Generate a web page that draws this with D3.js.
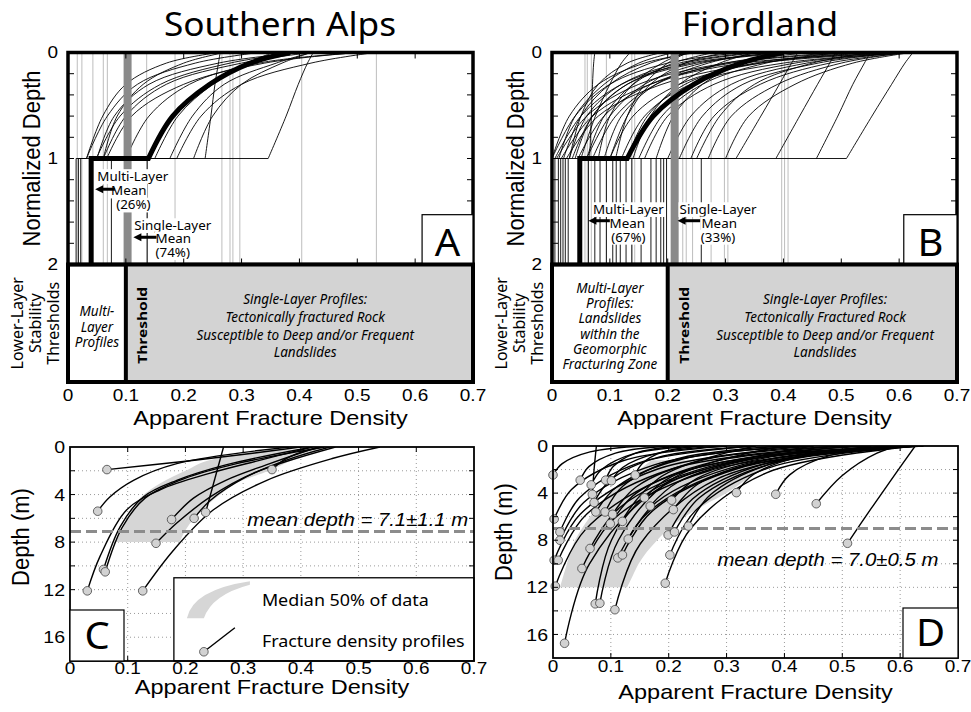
<!DOCTYPE html>
<html>
<head>
<meta charset="utf-8">
<script src="https://cdn.jsdelivr.net/npm/d3@7"></script>
<style>
  body { margin: 0; background: #fff; }
  svg { display: block; }
</style>
</head>
<body>
<svg id="fig" width="971" height="712"></svg>
<script>
// ---------------- data: panels A / B (normalized depth) ----------------
// each profile: x values at the normalized depths below, lo = lower-layer value (multi-layer)
const normDepths = [1, 0.6, 0.3, 0.1, 0];

const alpsProfiles = [
  { x: [0.032, 0.068, 0.12, 0.22, 0.33], lo: 0.018 },
  { x: [0.049, 0.09, 0.16, 0.28, 0.40] },
  { x: [0.061, 0.10, 0.17, 0.30, 0.42] },
  { x: [0.067, 0.11, 0.20, 0.34, 0.50] },
  { x: [0.061, 0.085, 0.13, 0.20, 0.27] },
  { x: [0.15, 0.19, 0.25, 0.31, 0.355] },
  { x: [0.176, 0.215, 0.27, 0.36, 0.42], lo: 0.137 },
  { x: [0.188, 0.23, 0.30, 0.42, 0.53], lo: 0.075 },
  { x: [0.217, 0.25, 0.30, 0.37, 0.42] },
  { x: [0.237, 0.247, 0.254, 0.26, 0.263] },
  { x: [0.346, 0.377, 0.398, 0.414, 0.424], lo: 0.014 },
  { x: [0.05, 0.08, 0.14, 0.26, 0.40] },
  { x: [0.032, 0.06, 0.10, 0.17, 0.26], lo: 0.022 },
  { x: [0.10, 0.14, 0.21, 0.33, 0.505] }
];
const alpsMean = { x: [0.139, 0.181, 0.245, 0.315, 0.384], lo: 0.04 };
const alpsSingle = [0.016, 0.024, 0.043, 0.061, 0.068, 0.136, 0.185, 0.266, 0.28, 0.285, 0.297, 0.404, 0.533];
const alpsSingleMean = 0.103;
const alpsThreshold = 0.1;

const fiordProfiles = [
  { x: [0.0, 0.03, 0.08, 0.16, 0.25], lo: 0.011 },
  { x: [0.0, 0.04, 0.10, 0.20, 0.33], lo: 0.015 },
  { x: [0.005, 0.05, 0.12, 0.24, 0.40], lo: 0.019 },
  { x: [0.008, 0.06, 0.15, 0.30, 0.50], lo: 0.023 },
  { x: [0.012, 0.04, 0.09, 0.15, 0.21], lo: 0.028 },
  { x: [0.016, 0.07, 0.17, 0.33, 0.62] },
  { x: [0.02, 0.05, 0.10, 0.17, 0.24] },
  { x: [0.025, 0.08, 0.19, 0.36, 0.61] },
  { x: [0.03, 0.06, 0.12, 0.22, 0.35] },
  { x: [0.04, 0.07, 0.13, 0.25, 0.42] },
  { x: [0.05, 0.075, 0.10, 0.12, 0.135] },
  { x: [0.06, 0.09, 0.14, 0.21, 0.28], lo: 0.063 },
  { x: [0.065, 0.068, 0.07, 0.072, 0.074] },
  { x: [0.07, 0.11, 0.18, 0.30, 0.45], lo: 0.074 },
  { x: [0.08, 0.10, 0.14, 0.19, 0.23] },
  { x: [0.09, 0.12, 0.18, 0.27, 0.36], lo: 0.083 },
  { x: [0.10, 0.14, 0.22, 0.36, 0.56], lo: 0.094 },
  { x: [0.11, 0.13, 0.16, 0.20, 0.235] },
  { x: [0.12, 0.16, 0.24, 0.40, 0.62], lo: 0.105 },
  { x: [0.06, 0.10, 0.16, 0.26, 0.39], lo: 0.111 },
  { x: [0.14, 0.17, 0.22, 0.29, 0.35], lo: 0.118 },
  { x: [0.16, 0.20, 0.28, 0.42, 0.61], lo: 0.128 },
  { x: [0.18, 0.21, 0.26, 0.33, 0.39] },
  { x: [0.20, 0.24, 0.31, 0.44, 0.62], lo: 0.138 },
  { x: [0.22, 0.26, 0.33, 0.46, 0.60], lo: 0.154 },
  { x: [0.24, 0.28, 0.36, 0.48, 0.62], lo: 0.171 },
  { x: [0.27, 0.31, 0.39, 0.50, 0.61], lo: 0.18 },
  { x: [0.30, 0.34, 0.42, 0.52, 0.62], lo: 0.188 },
  { x: [0.318, 0.361, 0.393, 0.414, 0.425], lo: 0.258 },
  { x: [0.387, 0.428, 0.459, 0.48, 0.49] },
  { x: [0.457, 0.494, 0.52, 0.54, 0.55] },
  { x: [0.509, 0.553, 0.587, 0.61, 0.624], lo: 0.005 },
  { x: [0.15, 0.19, 0.26, 0.37, 0.50], lo: 0.193 },
  { x: [0.035, 0.07, 0.13, 0.23, 0.36] },
  { x: [0.045, 0.09, 0.17, 0.31, 0.53] },
  { x: [0.13, 0.165, 0.23, 0.35, 0.55], lo: 0.198 },
  { x: [0.25, 0.29, 0.35, 0.45, 0.55] },
  { x: [0.03, 0.05, 0.08, 0.13, 0.19] },
  { x: [0.10, 0.13, 0.17, 0.23, 0.30] }
];
const fiordMean = { x: [0.13, 0.175, 0.245, 0.327, 0.40], lo: 0.048 };
const fiordSingle = [0.057, 0.061, 0.068, 0.094, 0.138, 0.143, 0.226, 0.232, 0.243, 0.275, 0.298, 0.304, 0.397, 0.402, 0.408];
const fiordSingleMean = 0.212;
const fiordThreshold = 0.2;

const normTickLabels = [0, 1, 2];

// ---------------- data: panels C / D (depth in m) ----------------
// each profile: [apparent fracture density, depth] from deepest point to surface
const alpsDepthProfiles = [
  [[0.064, 1.9], [0.2, 1.2], [0.32, 0.5], [0.40, 0]],
  [[0.35, 1.9], [0.37, 1.1], [0.40, 0.45], [0.44, 0]],
  [[0.048, 5.4], [0.069, 4.2], [0.11, 2.8], [0.185, 1.4], [0.38, 0]],
  [[0.176, 6.1], [0.214, 4.3], [0.27, 2.8], [0.34, 1.5], [0.43, 0]],
  [[0.215, 6.0], [0.243, 4.5], [0.306, 2.5], [0.375, 1.1], [0.45, 0]],
  [[0.235, 5.5], [0.266, 0]],
  [[0.149, 8.1], [0.185, 6.4], [0.243, 4.2], [0.318, 2.2], [0.46, 0]],
  [[0.058, 10.3], [0.087, 6.7], [0.127, 4.2], [0.185, 2.8], [0.27, 1.5], [0.42, 0]],
  [[0.061, 10.5], [0.09, 6.8], [0.13, 4.3], [0.19, 2.8], [0.28, 1.5], [0.44, 0]],
  [[0.030, 12.1], [0.052, 9.2], [0.098, 5.3], [0.156, 3.6], [0.243, 2.2], [0.33, 1.1], [0.42, 0]],
  [[0.126, 12.1], [0.179, 8.7], [0.248, 5.3], [0.341, 2.8], [0.456, 0.95], [0.537, 0]]
];
const alpsBandDepth = [8, 7, 6, 5, 4, 3, 2, 1, 0.2];
const alpsBandLow   = [0.078, 0.09, 0.10, 0.11, 0.128, 0.158, 0.20, 0.25, 0.35];
const alpsBandHigh  = [0.19, 0.20, 0.215, 0.235, 0.26, 0.29, 0.345, 0.39, 0.44];
const alpsMeanDepth = 7.1;

const fiordDepthProfiles = [
  [[0.0, 2.46], [0.016, 1.5], [0.064, 0.5], [0.16, 0]],
  [[0.047, 2.9], [0.062, 1.75], [0.108, 0.6], [0.20, 0]],
  [[0.066, 3.3], [0.084, 2.0], [0.14, 0.65], [0.25, 0]],
  [[0.068, 4.1], [0.071, 2.0], [0.075, 0]],
  [[0.071, 4.8], [0.099, 2.9], [0.183, 0.95], [0.35, 0]],
  [[0.074, 5.6], [0.112, 3.4], [0.224, 1.1], [0.45, 0]],
  [[0.091, 2.9], [0.104, 1.75], [0.143, 0.6], [0.22, 0]],
  [[0.101, 2.95], [0.121, 1.8], [0.181, 0.6], [0.30, 0]],
  [[0.142, 2.46], [0.154, 1.5], [0.19, 0.5], [0.26, 0]],
  [[0.09, 5.6], [0.121, 3.4], [0.214, 1.1], [0.40, 0]],
  [[0.103, 5.8], [0.143, 3.5], [0.262, 1.15], [0.50, 0]],
  [[0.099, 6.6], [0.144, 4.0], [0.28, 1.3], [0.55, 0]],
  [[0.12, 6.4], [0.17, 3.8], [0.32, 1.3], [0.62, 0]],
  [[0.158, 4.4], [0.205, 2.6], [0.347, 0.9], [0.63, 0]],
  [[0.168, 5.1], [0.215, 3.1], [0.357, 1.0], [0.64, 0]],
  [[0.002, 6.2], [0.032, 3.7], [0.121, 1.25], [0.30, 0]],
  [[0.012, 7.3], [0.046, 4.4], [0.147, 1.45], [0.35, 0]],
  [[0.012, 8.0], [0.053, 4.8], [0.175, 1.6], [0.42, 0]],
  [[0.002, 9.7], [0.047, 5.8], [0.181, 1.95], [0.45, 0]],
  [[0.009, 9.7], [0.058, 5.8], [0.205, 1.95], [0.50, 0]],
  [[0.004, 11.9], [0.056, 7.1], [0.21, 2.4], [0.52, 0]],
  [[0.064, 8.7], [0.116, 5.2], [0.27, 1.75], [0.58, 0]],
  [[0.05, 10.4], [0.105, 6.2], [0.27, 2.1], [0.60, 0]],
  [[0.112, 9.5], [0.163, 5.7], [0.315, 1.9], [0.62, 0]],
  [[0.12, 9.25], [0.171, 5.55], [0.324, 1.85], [0.63, 0]],
  [[0.13, 7.9], [0.179, 4.75], [0.326, 1.6], [0.62, 0]],
  [[0.073, 13.4], [0.101, 8.0], [0.184, 2.7], [0.35, 0]],
  [[0.081, 13.35], [0.113, 8.0], [0.209, 2.7], [0.40, 0]],
  [[0.107, 13.9], [0.151, 8.3], [0.284, 2.8], [0.55, 0]],
  [[0.02, 16.75], [0.063, 10.0], [0.192, 3.35], [0.45, 0]],
  [[0.205, 4.6], [0.249, 2.75], [0.379, 0.9], [0.64, 0]],
  [[0.208, 5.4], [0.25, 3.25], [0.377, 1.1], [0.63, 0]],
  [[0.199, 7.55], [0.241, 4.5], [0.367, 1.5], [0.62, 0]],
  [[0.21, 7.3], [0.253, 4.4], [0.382, 1.45], [0.64, 0]],
  [[0.202, 9.25], [0.245, 5.55], [0.373, 1.85], [0.63, 0]],
  [[0.234, 6.8], [0.273, 4.1], [0.388, 1.35], [0.62, 0]],
  [[0.194, 11.65], [0.238, 7.0], [0.368, 2.3], [0.63, 0]],
  [[0.317, 3.96], [0.347, 2.4], [0.438, 0.8], [0.62, 0]],
  [[0.385, 4.1], [0.409, 2.45], [0.479, 0.8], [0.62, 0]],
  [[0.455, 4.9], [0.50, 2.5], [0.56, 0.6], [0.60, 0]],
  [[0.509, 8.26], [0.55, 5.3], [0.59, 2.5], [0.626, 0]]
];
const fiordBandDepth = [12, 11, 10, 9, 8, 7, 6, 5, 4, 3, 2, 1.2];
const fiordBandLow   = [0.012, 0.018, 0.024, 0.03, 0.038, 0.05, 0.064, 0.08, 0.10, 0.125, 0.15, 0.17];
const fiordBandHigh  = [0.128, 0.138, 0.148, 0.162, 0.18, 0.20, 0.228, 0.262, 0.30, 0.33, 0.36, 0.38];
const fiordMeanDepth = 7.0;

const depthTickLabels = [0, 4, 8, 12, 16];

// ---------------- drawing ----------------
const svg = d3.select("#fig");
const HEL = "'Liberation Sans', Arial, Helvetica, sans-serif";
const MYR = "'Noto Sans', 'Open Sans', sans-serif";
const SX = 1.12;   // the figure is slightly stretched horizontally

function txt(g, x, y, s, o = {}) {
  const sx = o.sx ?? SX;
  const gg = g.append("g")
    .attr("transform", `translate(${x},${y}) scale(${sx},1)` + (o.rot ? ` rotate(${o.rot})` : ""));
  const t = gg.append("text")
    .attr("text-anchor", o.anchor || "middle")
    .attr("dy", o.dy || 0)
    .style("font-family", o.font || HEL)
    .style("font-size", (o.size || 16) + "px")
    .style("font-style", o.italic ? "italic" : "normal")
    .style("font-weight", o.bold ? "bold" : "normal")
    .attr("fill", "#000")
    .text(s);
  if (o.bg) {
    const b = t.node().getBBox();
    gg.insert("rect", "text")
      .attr("x", b.x - 1).attr("y", b.y + 2)
      .attr("width", b.width + 2).attr("height", b.height - 3)
      .attr("fill", "#fff");
  }
  return gg;
}

function arrow(g, xTip, xTail, y) {
  g.append("line").attr("x1", xTip + 6).attr("x2", xTail).attr("y1", y).attr("y2", y)
    .attr("stroke", "#000").attr("stroke-width", 3);
  g.append("path").attr("d", `M${xTip},${y}L${xTip + 8},${y - 4}L${xTip + 8},${y + 4}Z`).attr("fill", "#000");
}

function drawTop(cfg) {
  const x = d3.scaleLinear().domain([0, 0.7]).range([cfg.left, cfg.left + 405]);
  const y = d3.scaleLinear().domain([0, 2]).range([52.5, 264.5]);
  const g = svg.append("g");

  svg.append("clipPath").attr("id", "clip" + cfg.key)
    .append("rect").attr("x", x(0)).attr("y", y(0))
    .attr("width", x(0.7) - x(0)).attr("height", y(2) - y(0));
  const p = g.append("g").attr("clip-path", `url(#clip${cfg.key})`);

  // single-layer profiles
  p.selectAll(".single").data(cfg.single).join("line")
    .attr("x1", d => x(d)).attr("x2", d => x(d)).attr("y1", y(0)).attr("y2", y(2))
    .attr("stroke", "#bdbdbd").attr("stroke-width", 1);

  const line = d3.line().x(d => x(d[0])).y(d => y(d[1])).curve(d3.curveCatmullRom.alpha(0.5));
  // surface -> normalized depth 1, then across to the lower-layer value and down
  const pathOf = pr => {
    let s = line(pr.x.map((v, i) => [v, normDepths[i]]).reverse());
    if (pr.lo != null) s += `L${x(pr.lo)},${y(1)}L${x(pr.lo)},${y(2)}`;
    return s;
  };

  p.selectAll(".prof").data(cfg.profiles).join("path")
    .attr("d", pathOf).attr("fill", "none").attr("stroke", "#000").attr("stroke-width", 0.9);

  // single-layer mean
  p.append("line").attr("x1", x(cfg.singleMean)).attr("x2", x(cfg.singleMean))
    .attr("y1", y(0)).attr("y2", y(2)).attr("stroke", "#8a8a8a").attr("stroke-width", 8);

  // multi-layer mean
  p.append("path").attr("d", pathOf(cfg.mean)).attr("fill", "none")
    .attr("stroke", "#000").attr("stroke-width", 5).attr("stroke-linejoin", "miter");

  // annotations
  cfg.notes.forEach(n => {
    n.lines.forEach(l => txt(g, x(l[1]), y(l[2]), l[0], { font: MYR, size: 13, sx: 1.03, bg: true }));
    arrow(g, x(n.arrow[0]), x(n.arrow[1]), y(n.arrow[2]));
  });

  // ticks
  const dTicks = d3.range(0.2, 2, 0.2);
  const xTicks = x.ticks(7).filter(v => v > 0 && v < 0.7);
  g.selectAll(".tl").data(dTicks).join("line")
    .attr("x1", x(0)).attr("x2", x(0) + 6).attr("y1", d => y(d)).attr("y2", d => y(d))
    .attr("stroke", "#000").attr("stroke-width", 1);
  g.selectAll(".tr").data(dTicks).join("line")
    .attr("x1", x(0.7)).attr("x2", x(0.7) - 6).attr("y1", d => y(d)).attr("y2", d => y(d))
    .attr("stroke", "#000").attr("stroke-width", 1);
  g.selectAll(".tt").data(xTicks).join("line")
    .attr("x1", d => x(d)).attr("x2", d => x(d)).attr("y1", y(0)).attr("y2", y(0) + 6)
    .attr("stroke", "#000").attr("stroke-width", 1);
  g.selectAll(".tb").data(xTicks).join("line")
    .attr("x1", d => x(d)).attr("x2", d => x(d)).attr("y1", y(2)).attr("y2", y(2) - 6)
    .attr("stroke", "#000").attr("stroke-width", 1);

  // frame
  g.append("rect").attr("x", x(0)).attr("y", y(0)).attr("width", x(0.7) - x(0)).attr("height", y(2) - y(0))
    .attr("fill", "none").attr("stroke", "#000").attr("stroke-width", 3.5);

  // panel letter
  const lb = cfg.letterBox;
  g.append("rect").attr("x", x(lb[0])).attr("y", y(lb[1])).attr("width", x(0.7) - x(lb[0])).attr("height", y(2) - y(lb[1]))
    .attr("fill", "#fff").attr("stroke", "#000").attr("stroke-width", 1.2);
  txt(g, (x(lb[0]) + x(0.7)) / 2, 256, cfg.letter, { font: MYR, size: 38, sx: 1.05 });

  // y labels
  normTickLabels.forEach(v => txt(g, x(0) - 10, y(v), String(v), { anchor: "end", size: 16.5, dy: "0.36em", sx: 1.15 }));
  txt(g, cfg.left - 28, y(1), "Normalized Depth", { rot: -90, size: 22 });

  // title
  txt(g, cfg.titleX, 36, cfg.title, { font: MYR, size: 32, sx: 1.1 });

  // ---- lower-layer threshold box ----
  const by0 = y(2), by1 = 382;
  g.append("rect").attr("x", x(cfg.threshold)).attr("y", by0)
    .attr("width", x(0.7) - x(cfg.threshold)).attr("height", by1 - by0).attr("fill", "#d3d3d3");
  g.append("line").attr("x1", x(cfg.threshold)).attr("x2", x(cfg.threshold)).attr("y1", by0).attr("y2", by1)
    .attr("stroke", "#000").attr("stroke-width", 4);
  g.append("rect").attr("x", x(0)).attr("y", by0).attr("width", x(0.7) - x(0)).attr("height", by1 - by0)
    .attr("fill", "none").attr("stroke", "#000").attr("stroke-width", 4);

  cfg.leftText.forEach((s, i) => txt(g, (x(0) + x(cfg.threshold)) / 2, cfg.leftBase + i * cfg.leftStep, s,
    { font: MYR, size: 13.5, sx: 1, italic: true }));
  cfg.rightText.forEach((s, i) => txt(g, x(cfg.rightCenter), 304 + i * 17.8, s,
    { font: MYR, size: 13.5, sx: 1, italic: true }));
  txt(g, x(cfg.threshold) + 21, (by0 + by1) / 2 + 2, "Threshold", { font: MYR, size: 15.5, bold: true, rot: -90, sx: 0.85 });

  ["Lower-Layer", "Stability", "Thresholds"].forEach((s, i) =>
    txt(g, cfg.left - 45 + i * 18, (by0 + by1) / 2, s, { font: MYR, size: 16, rot: -90, sx: 1 }));

  // x axis
  x.ticks(7).forEach(v => txt(g, x(v), 401, v === 0 ? "0" : d3.format(".1f")(v), { size: 16.5, sx: 1.15 }));
  txt(g, x(0.35), 425, "Apparent Fracture Density", { size: 21 });
}

function drawBottom(cfg) {
  const x = d3.scaleLinear().domain([0, 0.7]).range([cfg.left, cfg.right]);
  const y = d3.scaleLinear().domain([0, 18]).range([cfg.top, cfg.bottom]);
  const g = svg.append("g");

  svg.append("clipPath").attr("id", "clip" + cfg.key)
    .append("rect").attr("x", x(0)).attr("y", y(0))
    .attr("width", x(0.7) - x(0)).attr("height", y(18) - y(0));
  const p = g.append("g").attr("clip-path", `url(#clip${cfg.key})`);

  // dotted grid
  const xg = x.ticks(7).filter(v => v > 0 && v < 0.7);
  const yg = d3.range(2, 18, 2);
  p.selectAll(".gx").data(xg).join("line")
    .attr("x1", d => x(d)).attr("x2", d => x(d)).attr("y1", y(0)).attr("y2", y(18))
    .attr("stroke", "#9a9a9a").attr("stroke-width", 1).attr("stroke-dasharray", "1,3");
  p.selectAll(".gy").data(yg).join("line")
    .attr("x1", x(0)).attr("x2", x(0.7)).attr("y1", d => y(d)).attr("y2", d => y(d))
    .attr("stroke", "#9a9a9a").attr("stroke-width", 1).attr("stroke-dasharray", "1,3");

  // median 50% band
  const band = cfg.bandDepth.map((d, i) => ({ d, lo: cfg.bandLow[i], hi: cfg.bandHigh[i] }));
  p.append("path").datum(band)
    .attr("d", d3.area().y(d => y(d.d)).x0(d => x(d.lo)).x1(d => x(d.hi)).curve(d3.curveMonotoneY))
    .attr("fill", "#d6d6d6");

  // profiles
  const line = d3.line().x(d => x(d[0])).y(d => y(d[1])).curve(d3.curveCatmullRom.alpha(0.5));
  p.selectAll(".prof").data(cfg.profiles).join("path")
    .attr("d", line).attr("fill", "none").attr("stroke", "#000").attr("stroke-width", 1.4);

  // mean depth
  p.append("line").attr("x1", x(0)).attr("x2", x(0.7)).attr("y1", y(cfg.meanDepth)).attr("y2", y(cfg.meanDepth))
    .attr("stroke", "#8c8c8c").attr("stroke-width", 3).attr("stroke-dasharray", "11,5");

  g.selectAll(".dot").data(cfg.profiles).join("circle")
    .attr("cx", d => x(d[0][0])).attr("cy", d => y(d[0][1])).attr("r", 4.3)
    .attr("fill", "#d2d2d2").attr("stroke", "#444").attr("stroke-width", 0.8);

  txt(g, x(cfg.meanText[0]), y(cfg.meanText[1]), cfg.meanLabel, { anchor: "end", size: 18.5, italic: true, sx: 1.1 });

  // ticks
  const xt = x.ticks(7).filter(v => v > 0 && v < 0.7);
  const yt = d3.range(2, 18, 2);
  g.selectAll(".tt").data(xt).join("line")
    .attr("x1", d => x(d)).attr("x2", d => x(d)).attr("y1", y(0)).attr("y2", y(0) + 5).attr("stroke", "#000");
  g.selectAll(".tb").data(xt).join("line")
    .attr("x1", d => x(d)).attr("x2", d => x(d)).attr("y1", y(18)).attr("y2", y(18) - 5).attr("stroke", "#000");
  g.selectAll(".tl").data(yt).join("line")
    .attr("x1", x(0)).attr("x2", x(0) + 5).attr("y1", d => y(d)).attr("y2", d => y(d)).attr("stroke", "#000");
  g.selectAll(".tr").data(yt).join("line")
    .attr("x1", x(0.7)).attr("x2", x(0.7) - 5).attr("y1", d => y(d)).attr("y2", d => y(d)).attr("stroke", "#000");

  // legend (Southern Alps only)
  if (cfg.legend) {
    const lx = x(0.18), ly = y(11);
    const lg = g.append("g").attr("transform", `translate(${lx},${ly})`);
    lg.append("rect").attr("width", x(0.7) - lx).attr("height", y(18) - ly)
      .attr("fill", "#fff").attr("stroke", "#000").attr("stroke-width", 1.3);
    lg.append("path").attr("d", "M13,40.5Q19,12 76,3.5L76,7Q38,17 30,40.5Z").attr("fill", "#d6d6d6");
    lg.append("line").attr("x1", 30).attr("y1", 74).attr("x2", 61).attr("y2", 50)
      .attr("stroke", "#000").attr("stroke-width", 1.4);
    lg.append("circle").attr("cx", 30).attr("cy", 74).attr("r", 4.3)
      .attr("fill", "#d2d2d2").attr("stroke", "#444").attr("stroke-width", 0.8);
    txt(lg, 88, 28, "Median 50% of data", { anchor: "start", font: MYR, size: 16 });
    txt(lg, 88, 69, "Fracture density profiles", { anchor: "start", font: MYR, size: 16 });
  }

  // frame
  g.append("rect").attr("x", x(0)).attr("y", y(0)).attr("width", x(0.7) - x(0)).attr("height", y(18) - y(0))
    .attr("fill", "none").attr("stroke", "#000").attr("stroke-width", 1.8);

  // panel letter
  const lb = cfg.letterBox;
  g.append("rect").attr("x", lb[0]).attr("y", lb[1]).attr("width", lb[2] - lb[0]).attr("height", lb[3] - lb[1])
    .attr("fill", "#fff").attr("stroke", "#000").attr("stroke-width", 1.2);
  txt(g, (lb[0] + lb[2]) / 2, lb[3] - 12, cfg.letter, { font: MYR, size: 38, sx: 1.05 });

  // axes labels
  depthTickLabels.forEach(v => txt(g, x(0) - 5, y(v), String(v), { anchor: "end", size: 17, dy: "0.36em", sx: 1.15 }));
  x.ticks(7).forEach(v => txt(g, x(v), cfg.tickBase, v === 0 ? "0" : d3.format(".1f")(v), { size: 16.5, sx: 1.15 }));
  txt(g, x(0.35), cfg.titleBase, "Apparent Fracture Density", { size: 21 });
  txt(g, cfg.left - 41, cfg.depthLabelY, "Depth (m)", { rot: -90, size: 22 });
}

drawTop({
  key: "A", left: 68, title: "Southern Alps", titleX: 280, letter: "A", letterBox: [0.612, 1.53],
  profiles: alpsProfiles, mean: alpsMean, single: alpsSingle, singleMean: alpsSingleMean, threshold: alpsThreshold,
  notes: [
    { lines: [["Multi-Layer", 0.112, 1.212], ["Mean", 0.105, 1.349], ["(26%)", 0.113, 1.481]], arrow: [0.047, 0.081, 1.29] },
    { lines: [["Single-Layer", 0.181, 1.675], ["Mean", 0.182, 1.80], ["(74%)", 0.181, 1.93]], arrow: [0.113, 0.153, 1.743] }
  ],
  leftText: ["Multi-", "Layer", "Profiles"], leftBase: 316, leftStep: 15.5,
  rightText: ["Single-Layer Profiles:", "Tectonically fractured Rock", "Susceptible to Deep and/or Frequent", "Landslides"],
  rightCenter: 0.41
});

drawTop({
  key: "B", left: 552, title: "Fiordland", titleX: 760, letter: "B", letterBox: [0.608, 1.53],
  profiles: fiordProfiles, mean: fiordMean, single: fiordSingle, singleMean: fiordSingleMean, threshold: fiordThreshold,
  notes: [
    { lines: [["Multi-Layer", 0.132, 1.524], ["Mean", 0.130, 1.658], ["(67%)", 0.132, 1.785]], arrow: [0.063, 0.10, 1.587] },
    { lines: [["Single-Layer", 0.287, 1.524], ["Mean", 0.289, 1.658], ["(33%)", 0.287, 1.785]], arrow: [0.217, 0.256, 1.587] }
  ],
  leftText: ["Multi-Layer", "Profiles:", "Landslides", "within the", "Geomorphic", "Fracturing Zone"], leftBase: 292.7, leftStep: 15.3,
  rightText: ["Single-Layer Profiles:", "Tectonically Fractured Rock", "Susceptible to Deep and/or Frequent", "Landslides"],
  rightCenter: 0.472
});

drawBottom({
  key: "C", left: 70, right: 474, top: 447, bottom: 661, letter: "C", letterBox: [70, 610, 124, 661],
  profiles: alpsDepthProfiles, bandDepth: alpsBandDepth, bandLow: alpsBandLow, bandHigh: alpsBandHigh,
  meanDepth: alpsMeanDepth, meanLabel: "mean depth = 7.1\u00b11.1 m", meanText: [0.69, 6.65],
  legend: true, tickBase: 674, titleBase: 694, depthLabelY: 537
});

drawBottom({
  key: "D", left: 553, right: 958, top: 446, bottom: 658, letter: "D", letterBox: [903, 608, 958, 658],
  profiles: fiordDepthProfiles, bandDepth: fiordBandDepth, bandLow: fiordBandLow, bandHigh: fiordBandHigh,
  meanDepth: fiordMeanDepth, meanLabel: "mean depth = 7.0\u00b10.5 m", meanText: [0.666, 10.2],
  legend: false, tickBase: 672, titleBase: 699, depthLabelY: 532
});
</script>
</body>
</html>
